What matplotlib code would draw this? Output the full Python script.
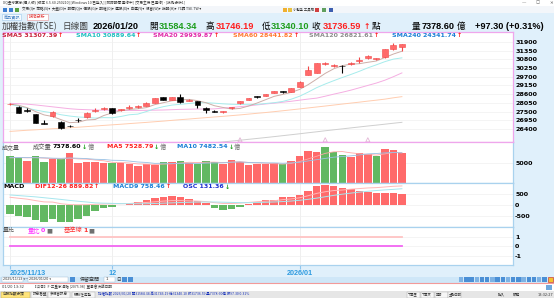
import matplotlib
matplotlib.use("Agg")
import matplotlib.pyplot as plt
import numpy as np
from matplotlib.patches import Rectangle

# ---- values: TAIEX daily, 2025/11/13 .. 2026/01/20 ----
opens = [27950, 27800, 27600, 27340, 26790, 27220, 26850, 26600, 26980, 27140,
         27550, 27680, 27700, 27580, 27700, 27780, 27860, 28060, 28390, 28240,
         28390, 28160, 28140, 27740, 27530, 27480, 27720, 28020, 28230, 28450,
         28480, 28690, 28780, 28750, 29070, 29800, 29950, 30480, 30400, 30400,
         30480, 30680, 30860, 30800, 30920, 31420, 31584.34]
highs = [28050, 27830, 27700, 27360, 26950, 27540, 26900, 26650, 27100, 27460,
         27700, 27780, 27750, 27680, 27920, 27920, 28080, 28350, 28420, 28450,
         28600, 28290, 28160, 27760, 27620, 27560, 27820, 28180, 28350, 28500,
         28620, 28830, 28830, 28980, 29400, 30370, 30590, 30600, 30520, 30450,
         30600, 30950, 31050, 30880, 31440, 31840, 31746.19]
lows = [27900, 27400, 27450, 26780, 26700, 27180, 26400, 26500, 26850, 27100,
        27500, 27620, 27350, 27520, 27680, 27700, 27840, 28040, 28200, 28220,
        28050, 28140, 27720, 27420, 27450, 27420, 27680, 28000, 28200, 28380,
        28460, 28670, 28680, 28730, 29050, 29780, 29930, 30420, 30330, 29950,
        30460, 30550, 30840, 30760, 30900, 31400, 31340.10]
closes = [27990, 27430, 27520, 26800, 26720, 27480, 26450, 26560, 26940, 27420,
          27620, 27710, 27400, 27620, 27820, 27860, 28050, 28330, 28240, 28430,
          28090, 28260, 27920, 27600, 27490, 27520, 27750, 28160, 28330, 28420,
          28600, 28810, 28740, 28960, 29380, 30110, 30570, 30520, 30430, 30350,
          30570, 30720, 31000, 30830, 31420, 31690, 31736.59]
prev_close = 28080

sma5 = [27980, 27900, 27750, 27500, 27290, 27190, 26990, 26800, 26830, 26970,
        27000, 27250, 27420, 27550, 27630, 27680, 27750, 27940, 28060, 28180,
        28230, 28270, 28190, 28060, 27870, 27760, 27660, 27700, 27850, 28040,
        28250, 28460, 28580, 28710, 28900, 29200, 29550, 29910, 30200, 30400,
        30490, 30520, 30610, 30690, 30910, 31130, 31307.39]
sma10 = [27950, 27850, 27720, 27600, 27500, 27420, 27300, 27220, 27160, 27130,
         27090, 27120, 27110, 27190, 27300, 27340, 27500, 27680, 27810, 27910,
         27960, 28010, 28060, 28060, 28030, 27990, 27960, 27950, 27960, 27950,
         28010, 28060, 28140, 28280, 28470, 28730, 29010, 29240, 29450, 29650,
         29840, 30040, 30260, 30450, 30650, 30810, 30889.64]
sma20 = [28020, 28000, 27970, 27920, 27860, 27800, 27740, 27680, 27640, 27620,
         27600, 27590, 27580, 27570, 27570, 27570, 27580, 27590, 27600, 27620,
         27640, 27650, 27660, 27660, 27670, 27720, 27760, 27810, 27860, 27920,
         27980, 28030, 28090, 28150, 28220, 28290, 28350, 28470, 28600, 28720,
         28850, 29000, 29150, 29300, 29480, 29700, 29939.87]
sma60 = [26250, 26285, 26322, 26350, 26384, 26420, 26446, 26480, 26515, 26552,
         26590, 26628, 26665, 26700, 26742, 26780, 26818, 26860, 26900, 26946,
         26990, 27030, 27075, 27118, 27160, 27200, 27245, 27290, 27340, 27392,
         27440, 27495, 27552, 27610, 27668, 27730, 27790, 27850, 27912, 27975,
         28035, 28095, 28160, 28220, 28285, 28370, 28441.82]
sma120 = [24370, 24412, 24455, 24498, 24540, 24586, 24630, 24675, 24720, 24768,
          24815, 24862, 24910, 24960, 25008, 25060, 25110, 25160, 25212, 25266,
          25318, 25370, 25425, 25478, 25530, 25585, 25640, 25693, 25750, 25805,
          25862, 25920, 25980, 26040, 26100, 26165, 26225, 26290, 26350, 26410,
          26470, 26530, 26590, 26645, 26705, 26765, 26821.61]

volume = [6740, 6190, 5620, 6740, 5380, 5950, 5950, 7380, 5140, 5380,
          5240, 5140, 5140, 5000, 4830, 4360, 4830, 4670, 5380, 5240,
          5550, 5140, 4760, 5620, 5380, 4830, 5780, 5380, 4670, 4760,
          4760, 5000, 4830, 5620, 6740, 7930, 7620, 8810, 7620, 6970,
          6430, 7380, 7140, 6810, 8400, 8160, 7378.60]
vol_ma5 = [6300, 6350, 6300, 6350, 6240, 6150, 6020, 6210, 6040, 5990,
           5770, 5600, 5230, 5180, 5070, 4850, 4800, 4730, 4810, 4870,
           5060, 5240, 5170, 5240, 5280, 5170, 5280, 5380, 5190, 5080,
           5040, 4910, 4810, 4970, 5430, 6040, 6680, 7360, 7730, 7790,
           7490, 7280, 7110, 6950, 7230, 7580, 7528.79]
vol_ma10 = [6400, 6380, 6350, 6330, 6300, 6220, 6180, 6280, 6200, 6120,
            5960, 5900, 5720, 5690, 5530, 5310, 5200, 4980, 5020, 4970,
            4960, 5020, 4950, 5030, 5080, 5120, 5260, 5310, 5210, 5180,
            5100, 5100, 5010, 5100, 5240, 5560, 5860, 6160, 6460, 6610,
            6770, 6980, 7240, 7330, 7480, 7580, 7482.54]

osc_bar = [-435, -500, -545, -700, -780, -655, -810, -780, -655, -500,
           -280, -155, -78, -20, 30, 155, 233, 310, 390, 420,
           360, 280, 187, 80, -125, -233, -200, -78, 30, 155,
           218, 233, 360, 390, 467, 670, 887, 934, 900, 780,
           733, 670, 623, 545, 545, 575, 525]
dif = [361, 315, 274, 205, 145, 136, 58, 20, 11, 15,
       30, 46, 56, 60, 68, 97, 118, 148, 183, 205,
       205, 195, 182, 160, 109, 72, 70, 90, 118, 154,
       180, 198, 250, 283, 337, 433, 542, 619, 675, 700,
       738, 768, 796, 811, 841, 874, 889.82]
macd9 = [470, 440, 410, 380, 340, 300, 260, 215, 175, 140,
         100, 85, 75, 65, 60, 58, 60, 70, 85, 100,
         115, 125, 135, 140, 140, 130, 120, 110, 110, 115,
         125, 140, 160, 185, 220, 265, 320, 385, 450, 505,
         555, 600, 640, 675, 705, 730, 758.46]

vol_ratio = [0] * 47
base_line = [1] * 47
event_idx = [27, 37, 42]

price_ticks = [31900, 31350, 30800, 30250, 29700, 29150, 28600, 28050, 27500, 26950, 26400]
vol_ticks = [5000]
macd_ticks = [500, 0, -500]
ratio_ticks = [1, 0, -1]
date_idx = [0, 12, 34]
date_labels = ["2025/11/13", "12", "2026/01"]

# ---- layout (pixels of the 554x298 screenshot) ----
W, H = 554, 298
SANS = ["DejaVu Sans", "Noto Sans CJK TC"]
CJK = ["Noto Sans CJK TC", "DejaVu Sans"]
NUM = ["Liberation Sans", "DejaVu Sans"]
RED, GREEN, BLUE = "#FF2020", "#1E9E1E", "#1A7FD6"
UP_FILL, DOWN_VOL = "#FF6A6A", "#62B862"

fig = plt.figure(figsize=(W / 100, H / 100), dpi=100)
fig.patch.set_facecolor("#E0F0FB")

bg = fig.add_axes([0, 0, 1, 1], zorder=0)
fg = fig.add_axes([0, 0, 1, 1], zorder=10)
for a in (bg, fg):
    a.set_xlim(0, W)
    a.set_ylim(H, 0)
    a.axis("off")


def panel(y0, y1, edge, top_edge=None):
    ax = fig.add_axes([3 / W, 1 - y1 / H, 510 / W, (y1 - y0) / H], zorder=1)
    ax.set_facecolor("white")
    ax.set_xlim(-0.82, 59.04)
    for sp in ax.spines.values():
        sp.set_color(edge)
        sp.set_linewidth(0.9)
    if top_edge:
        ax.spines["top"].set_color(top_edge)
    ax.yaxis.tick_right()
    ax.tick_params(axis="y", length=0, pad=1.5)
    ax.tick_params(axis="x", length=0, labelbottom=False)
    for i in date_idx:
        ax.axvline(i, color="#EDEDED", lw=0.6, zorder=0)
    return ax


def yticks(ax, ticks):
    ax.set_yticks(ticks, [str(t) for t in ticks], fontsize=4.6, fontweight="bold",
                  family="DejaVu Sans")
    for t in ticks:
        ax.axhline(t, color="#F0F0F0", lw=0.5, zorder=0)


def put(x, y, s, color="#000000", size=4.5, weight="normal", family=SANS):
    return fg.text(x, y, s, color=color, fontsize=size, fontweight=weight,
                   family=family, ha="left", va="center")


def row(x, y, parts, size=4.5):
    prev = None
    for s, color, weight, fam in parts:
        kw = dict(color=color, fontsize=size, fontweight=weight, family=fam,
                  ha="left", va="center")
        if prev is None:
            prev = fg.text(x, y, s, **kw)
        else:
            prev = fg.annotate(s, xy=(1, 0.5), xycoords=prev, xytext=(0.5, 0),
                               textcoords="offset points", **kw)


x = np.arange(len(closes))
o, h, l, c = (np.array(v, dtype=float) for v in (opens, highs, lows, closes))
up = c >= o

# ---- price panel ----
ax_p = panel(31.7, 142, "#EFA6EC")
ax_p.set_ylim(25581, 32540)
yticks(ax_p, price_ticks)
for vals, col in [(sma120, "#CFCFCF"), (sma60, "#FFCDB0"), (sma20, "#F5AEE2"),
                  (sma10, "#A6ECEC"), (sma5, "#CDAEA8")]:
    ax_p.plot(x, vals, color=col, lw=0.7, zorder=2)
edge = np.where(up, "#F24848", "#000000")
ax_p.vlines(x, l, h, colors=edge, lw=0.8, zorder=3)
ax_p.bar(x, np.maximum(np.abs(c - o), 55), bottom=np.minimum(o, c), width=0.68,
         color=np.where(up, UP_FILL, "#000000"), edgecolor=edge, lw=0.4, zorder=4)
ax_p.scatter(event_idx, [0.02] * len(event_idx), transform=ax_p.get_xaxis_transform(),
             marker="^", s=9, facecolor="none", edgecolor="#E3B6D6", lw=0.6, zorder=5)

# ---- volume panel ----
ax_v = panel(142, 183, "#A9D2EE", top_edge="#EFA6EC")
ax_v.set_ylim(309, 10067)
yticks(ax_v, vol_ticks)
vol_up = np.diff(c, prepend=prev_close) > 0
ax_v.bar(x, volume, width=0.88, color=np.where(vol_up, UP_FILL, DOWN_VOL), zorder=2)
ax_v.plot(x, vol_ma5, color="#FFA8A8", lw=0.6, zorder=3)
ax_v.plot(x, vol_ma10, color="#98C0E4", lw=0.6, zorder=3)

# ---- MACD panel ----
ax_m = panel(183, 226.5, "#A9D2EE")
ax_m.set_ylim(-1004, 1027)
yticks(ax_m, macd_ticks)
osc = np.array(osc_bar)
ax_m.bar(x, osc, width=0.88, color=np.where(osc >= 0, UP_FILL, DOWN_VOL), zorder=2)
ax_m.plot(x, dif, color="#FFB8B8", lw=0.7, zorder=3)
ax_m.plot(x, macd9, color="#A6E6EE", lw=0.7, zorder=3)

# ---- volume ratio panel ----
ax_r = panel(227, 265, "#A9D2EE")
ax_r.set_ylim(-1.93, 2.0)
yticks(ax_r, ratio_ticks)
ax_r.plot(x, base_line, color="#FFC4C4", lw=1.3, zorder=2)
ax_r.plot(x, vol_ratio, color="#F266F2", lw=1.3, zorder=2)
ax_r.set_xticks(date_idx, date_labels, fontsize=5.2, fontweight="bold",
                family="Liberation Sans", color="#2F9BE0")
ax_r.tick_params(axis="x", length=3, color="#8FC6EE", pad=0.5, labelbottom=True)
ax_r.get_xticklabels()[0].set_ha("left")

# ---- window chrome ----
bg.add_patch(Rectangle((0, 0), W, 6, fc="white", ec="none"))
bg.add_patch(Rectangle((0, 6), W, 7, fc="#F3F6FA", ec="none"))
bg.add_patch(Rectangle((0, 276.5), W, 6, fc="#CFE7F8", ec="none"))
bg.add_patch(Rectangle((0, 283.5), W, 7, fc="white", ec="none"))
bg.add_patch(Rectangle((0, 290.5), W, 7.5, fc="#E6E6E6", ec="none"))
bg.plot([0, W], [283.2, 283.2], color="#F29A9A", lw=0.8)

put(3, 2.8, "XQ全球贏家(個人版) [版本 6.5.60.250210] [Windows 10 已登入] [即時報價 連線中] "
            "[交易主機 已連線] - [技術分析1]", "#333333", 2.6, family=CJK)
for xx, s in [(522, "—"), (536, "▢"), (549, "✕")]:
    put(xx, 2.8, s, "#555555", 3.2)
for xx, col in [(3, "#3D7FD0"), (9, "#3D7FD0"), (15, "#58A040")]:
    bg.add_patch(Rectangle((xx, 7.5), 4, 4, fc=col, ec="none"))
put(22, 9.5, "交易(I)▾  策略(S)▾  大盤(D)▾  報價(Q)▾  個股(G)▾  期權(O)▾  選股(X)▾  "
             "自選(Y)▾  視窗(W)▾  說明(H)▾  代碼 TSE.TW ▾", "#333333", 2.6, family=CJK)
for xx, col in [(283, "#F0B030"), (288, "#E8C040"), (315, "#D04040"), (322, "#60A060"),
                (329, "#3D5FB0")]:
    bg.add_patch(Rectangle((xx, 7.5), 4, 4, fc=col, ec="none"))
put(293, 9.5, "小幫手 工具箱", "#333333", 2.4, family=CJK)
bg.add_patch(Rectangle((2, 14), 19, 5.5, fc="#F6FBFF", ec="#9CC8EA", lw=0.4))
bg.add_patch(Rectangle((27, 14), 21, 5.5, fc="white", ec="#E89090", lw=0.4))
put(4, 16.8, "商品資訊", "#4C86C6", 3.0, family=CJK)
put(29, 16.8, "技術分析", "#E03030", 3.0, family=CJK)

# ---- header row ----
Y = 26.3
put(2, Y, "加權指數(TSE)", "#404040", 6.2, family=CJK)
put(63, Y, "日線圖", "#404040", 6.2, family=CJK)
put(93, Y, "2026/01/20", "#000000", 6.6, "bold", NUM)
put(149, Y, "開", "#000000", 6.2, family=CJK)
put(159, Y, "31584.34", GREEN, 6.6, "bold", NUM)
put(206, Y, "高", "#000000", 6.2, family=CJK)
put(216, Y, "31746.19", RED, 6.6, "bold", NUM)
put(262, Y, "低", "#000000", 6.2, family=CJK)
put(271, Y, "31340.10", GREEN, 6.6, "bold", NUM)
put(311, Y, "收", "#000000", 6.2, family=CJK)
put(323, Y, "31736.59", RED, 6.6, "bold", NUM)
put(364, Y, "↑", RED, 5.5, "bold")
put(372, Y, "點", "#000000", 6.2, family=CJK)
put(412, Y, "量", "#000000", 6.2, family=CJK)
put(422, Y, "7378.60", "#000000", 6.6, "bold", NUM)
put(457, Y, "億", "#000000", 6.2, family=CJK)
put(475, Y, "+97.30 (+0.31%)", "#000000", 6.6, "bold", NUM)

# ---- legend rows inside the panels ----
B = "bold"
for xx, s, col in [(2, "SMA5 31307.39", "#C8203A"), (76, "SMA10 30889.64", "#1FC0C0"),
                   (153, "SMA20 29939.87", "#E02AA8"), (233, "SMA60 28441.82", "#FF7A30"),
                   (309, "SMA120 26821.61", "#8C8C8C"), (392, "SMA240 24341.74", BLUE)]:
    row(xx, 35.6, [(s, col, B, SANS), ("↑", RED, B, SANS)])

put(2, 147, "成交量", "#505050", 4.3, family=CJK)
row(33, 147, [("成交量", "#505050", "normal", CJK), ("7378.60", "#000000", B, SANS),
              ("↓", GREEN, B, SANS), ("億", "#707070", "normal", CJK)])
row(107, 147, [("MA5 7528.79", RED, B, SANS), ("↓", GREEN, B, SANS),
               ("億", "#707070", "normal", CJK)])
row(177, 147, [("MA10 7482.54", BLUE, B, SANS), ("↓", GREEN, B, SANS),
               ("億", "#707070", "normal", CJK)])

put(3, 187, "MACD", "#000000", 4.6, B)
row(35, 187, [("DIF12-26 889.82", RED, B, SANS), ("↑", RED, B, SANS)])
row(113, 187, [("MACD9 758.46", BLUE, B, SANS), ("↑", RED, B, SANS)])
row(183, 187, [("OSC 131.36", "#1A2FD0", B, SANS), ("↓", GREEN, B, SANS)])

put(3, 230.5, "量比", "#505050", 4.3, family=CJK)
row(28, 230.5, [("量比", "#FF30FF", "normal", CJK), ("0", "#FF30FF", B, SANS),
                ("■", "#707070", "normal", SANS)])
row(64, 230.5, [("基準線", "#FF3030", "normal", CJK), ("1", "#FF3030", B, SANS),
                ("■", "#707070", "normal", SANS)])

# ---- bottom bars ----
bg.add_patch(Rectangle((2, 277), 21, 4.5, fc="white", ec="#9CB8D0", lw=0.3))
bg.add_patch(Rectangle((28, 277), 40, 4.5, fc="white", ec="#9CB8D0", lw=0.3))
put(3, 279.3, "2025/11/13 ▾", "#333333", 2.4)
put(24.5, 279.3, "~", "#333333", 3)
put(29, 279.3, "2026/01/20 ▾", "#333333", 2.4)
bg.add_patch(Rectangle((70, 277), 5, 4.5, fc="#4A8FD6", ec="none"))
put(80, 279.3, "保留空間", "#333333", 3.6, family=CJK)
bg.add_patch(Rectangle((104, 277), 11, 4.5, fc="white", ec="#9CB8D0", lw=0.3))
put(106, 279.3, "1", "#333333", 2.8)
put(116, 279.3, "日", "#333333", 3.2, family=CJK)
bg.add_patch(Rectangle((122, 277), 5, 4.5, fc="#4A8FD6", ec="none"))
bg.add_patch(Rectangle((127.5, 277), 5, 4.5, fc="#4A8FD6", ec="none"))
for k in range(17):
    bg.add_patch(Rectangle((459 + k * 5.2, 277.3), 4.3, 4.2,
                           fc="#4A8FD6" if k % 3 else "#7DB2E4", ec="none"))
bg.add_patch(Rectangle((548, 277.3), 5, 4.5, fc="#F2C230", ec="#D04040", lw=0.5))

put(2, 287, "01/20 13:32", "#333333", 2.6)
put(33, 287, "【公告】F-三重家油脂 [2075.98]  董事會決議日期", "#333333", 2.6, family=CJK)
bg.add_patch(Rectangle((546, 284.5), 6, 5, fc="#6FA8DE", ec="none"))

bg.add_patch(Rectangle((1, 291.5), 29, 6, fc="#FFE47A", ec="#B0A060", lw=0.3))
put(3, 294.5, "台股指數分類", "#333333", 2.6, family=CJK)
for xx, wd, s in [(31, 16, "訊息看盤"), (48, 22, "多視窗訊息"), (72, 23, "關聯性走勢")]:
    bg.add_patch(Rectangle((xx, 291.5), wd, 6, fc="#F6F6F6", ec="#A8A8A8", lw=0.3))
    put(xx + 1.5, 294.5, s, "#333333", 2.6, family=CJK)
put(98, 294.5, "加權指數 2026/01/20 開31584.34 高31746.19 低31340.10 收31736.59 "
               "量7378.60億 漲97.30 0.31%", "#1530B8", 2.5, family=CJK)
for xx, s in [(407, "下單匣"), (421, "下單夾"), (435, "回報"), (448, "主動回報")]:
    bg.add_patch(Rectangle((xx, 291.5), 13, 6, fc="#F6F6F6", ec="#A8A8A8", lw=0.3))
    put(xx + 1, 294.5, s, "#333333", 2.3, family=CJK)
put(498, 294.5, "輸入", "#333333", 2.6, family=CJK)
put(513, 294.5, "帳務", "#333333", 2.6, family=CJK)
put(538, 294.5, "13:32:27", "#333333", 2.5)

fig.savefig("out.png", dpi=100, facecolor=fig.get_facecolor())
